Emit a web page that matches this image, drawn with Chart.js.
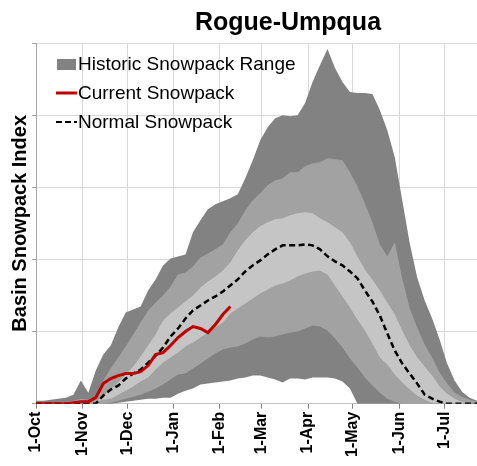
<!DOCTYPE html>
<html>
<head>
<meta charset="utf-8">
<script src="https://cdn.jsdelivr.net/npm/chart.js@4.4.1/dist/chart.umd.min.js"></script>
<style>
  html, body { margin: 0; padding: 0; background: #fff; }
</style>
</head>
<body>
<canvas id="myChart" width="477" height="466"></canvas>
<script>
// days since 1-Oct
const days = [0, 5, 10, 15, 20, 25, 30, 35, 40, 45, 50, 55, 60, 65, 70, 75, 80, 85, 90, 95,
  100, 105, 110, 115, 120, 125, 130, 135, 140, 145, 150, 155, 160, 165, 170, 175, 180, 185, 190, 195,
  200, 205, 210, 215, 220, 225, 230, 235, 240, 245, 250, 255, 260, 265, 270, 275, 280, 285, 290, 295];

const monthDays = [0, 31, 61, 92, 123, 151, 182, 212, 243, 273];
const monthLabels = ['1-Oct', '1-Nov', '1-Dec', '1-Jan', '1-Feb', '1-Mar', '1-Apr', '1-May', '1-Jun', '1-Jul'];

// historic range bands (snowpack index, top of each band)
const histMax = [3, 3, 4, 5, 6, 9, 23, 11, 33, 49, 58, 76, 91, 94, 97, 113, 124, 138, 145, 147,
  149, 171, 183, 194, 199, 202, 205, 209, 225, 243, 263, 276, 285, 288, 287, 288, 300, 321, 338, 354,
  335, 321, 311, 310, 310, 309, 293, 273, 246, 203, 160, 126, 103, 85, 64, 40, 23, 12, 6, 3];
const hist90 = [1, 1, 1, 2, 2, 3, 5, 4, 7, 23, 35, 46, 57, 69, 81, 93, 101, 108, 117, 129,
  131, 137, 146, 150, 154, 159, 171, 180, 193, 203, 210, 218, 223, 225, 231, 231, 237, 240, 241, 245,
  244, 243, 231, 217, 200, 181, 159, 147, 161, 125, 95, 76, 59, 46, 31, 20, 11, 7, 4, 2];
const hist70 = [0, 0, 0, 0, 0, 0, 0, 0, 1, 8, 14, 21, 29, 37, 47, 58, 69, 83, 90, 96,
  102, 108, 116, 122, 127, 133, 141, 153, 163, 171, 177, 181, 184, 185, 188, 190, 191, 190, 185, 181,
  176, 171, 161, 147, 134, 124, 113, 101, 89, 73, 58, 46, 37, 28, 17, 10, 5, 2, 0, 0];
const hist30 = [0, 0, 0, 0, 0, 0, 0, 0, 2, 4, 5, 9, 13, 17, 22, 26, 34, 41, 46, 51,
  57, 61, 66, 71, 76, 81, 90, 95, 100, 105, 110, 114, 118, 120, 123, 127, 130, 132, 133, 129,
  118, 107, 96, 84, 73, 60, 46, 39, 29, 21, 14, 8, 4, 1, 0, 0, 0, 0, 0, 0];
const hist10 = [0, 0, 0, 0, 0, 0, 0, 0, 0, 0, 1, 3, 5, 7, 9, 12, 15, 19, 24, 29,
  30, 35, 40, 45, 50, 54, 56, 57, 60, 64, 67, 66, 67, 69, 71, 72, 75, 78, 77, 73,
  65, 56, 45, 36, 26, 18, 11, 5, 2, 0, 0, 0, 0, 0, 0, 0, 0, 0, 0, 0];
const histMin = [0, 0, 0, 0, 0, 0, 0, 0, 0, 0, 0, 1, 2, 3, 4, 5, 5, 6, 6, 10,
  13, 15, 19, 20, 21, 22, 23, 25, 26, 28, 28, 26, 24, 21, 25, 25, 24, 26, 26, 26,
  25, 22, 15, 0, 0, 0, 0, 0, 0, 0, 0, 0, 0, 0, 0, 0, 0, 0, 0, 0];

const normalSnow = [0, 0, 0, 0, 0, 0, 0, 0, 0, 8, 14, 18, 25, 30, 34, 41, 48, 56, 67, 75,
  85, 93, 98, 103, 107, 112, 118, 124, 132, 138, 143, 149, 154, 158, 158, 158, 159, 158, 154, 147,
  142, 138, 132, 125, 113, 102, 88, 70, 53, 40, 30, 20, 9, 5, 2, 0, 0, 0, 0, 0];
const currentSnow = [0, 0, 0, 0, 0, 1, 2, 2, 6, 20, 25, 28, 30, 30, 32, 38, 49, 51, 58, 66,
  72, 77, 75, 71, 79, 89, 97];

const chartTitle = 'Rogue-Umpqua';
const legendItems = ['Historic Snowpack Range', 'Current Snowpack', 'Normal Snowpack'];

const dark = '#828282';
const mid = '#a2a2a2';
const light = '#c5c5c5';
const FONT = '"Liberation Sans", Arial, sans-serif';

function toPts(vals) {
  return vals.map((v, i) => ({ x: days[i], y: v }));
}

function band(vals, color, order) {
  return {
    data: toPts(vals),
    fill: 'origin',
    backgroundColor: color,
    borderColor: 'rgba(0,0,0,0)',
    borderWidth: 1,
    pointRadius: 0,
    order: order
  };
}

const overlay = {
  id: 'overlay',
  afterDraw(chart) {
    const c = chart.ctx;
    c.save();
    c.fillStyle = '#000';
    c.font = 'bold 25px ' + FONT;
    c.textAlign = 'center';
    c.textBaseline = 'alphabetic';
    c.fillText(chartTitle, 288, 30);

    // legend
    c.font = '19px ' + FONT;
    c.textAlign = 'left';
    c.textBaseline = 'middle';
    const ys = [64, 93, 122];
    c.fillStyle = dark;
    c.fillRect(57, 59, 19, 11);
    c.strokeStyle = '#c00000';
    c.lineWidth = 3;
    c.beginPath(); c.moveTo(56, ys[1]); c.lineTo(77, ys[1]); c.stroke();
    c.strokeStyle = '#000';
    c.lineWidth = 2;
    c.setLineDash([6, 3]);
    c.beginPath(); c.moveTo(56, ys[2]); c.lineTo(77, ys[2]); c.stroke();
    c.setLineDash([]);
    c.fillStyle = '#000';
    legendItems.forEach((t, i) => c.fillText(t, 78, ys[i] + 1));
    c.restore();
  }
};

const ctx = document.getElementById('myChart');

new Chart(ctx, {
  type: 'line',
  data: {
    datasets: [
      band(histMax, dark, 8),
      band(hist90, mid, 7),
      band(hist70, light, 6),
      band(hist30, mid, 5),
      band(hist10, dark, 4),
      band(histMin, '#ffffff', 3),
      {
        data: toPts(normalSnow),
        fill: false,
        borderColor: '#000',
        borderWidth: 2.5,
        borderDash: [6, 3.5],
        pointRadius: 0,
        order: 2
      },
      {
        data: toPts(currentSnow),
        fill: false,
        borderColor: '#c00000',
        borderWidth: 3,
        pointRadius: 0,
        order: 1
      }
    ]
  },
  options: {
    responsive: false,
    animation: false,
    events: [],
    layout: { padding: { top: 43, right: 0, left: 0, bottom: 6 } },
    plugins: {
      legend: { display: false },
      tooltip: { enabled: false },
      title: { display: false }
    },
    scales: {
      x: {
        type: 'linear',
        min: 0,
        max: 295,
        afterBuildTicks: axis => { axis.ticks = monthDays.map(v => ({ value: v })); },
        ticks: {
          autoSkip: false,
          minRotation: 90,
          maxRotation: 90,
          padding: 3,
          color: '#000',
          font: { family: FONT, size: 16, weight: 'bold' },
          callback: v => monthLabels[monthDays.indexOf(v)]
        },
        grid: { color: '#d9d9d9', tickColor: '#808080', tickLength: 5 },
        border: { color: '#808080' }
      },
      y: {
        min: 0,
        max: 360,
        ticks: { display: false, stepSize: 72 },
        grid: { color: '#d9d9d9', tickColor: '#a6a6a6', tickLength: 4 },
        border: { color: '#a6a6a6' },
        title: {
          display: true,
          text: 'Basin Snowpack Index',
          color: '#000',
          font: { family: FONT, size: 20, weight: 'bold' },
          padding: { top: 8, bottom: 0 }
        }
      }
    }
  },
  plugins: [overlay]
});
</script>
</body>
</html>
